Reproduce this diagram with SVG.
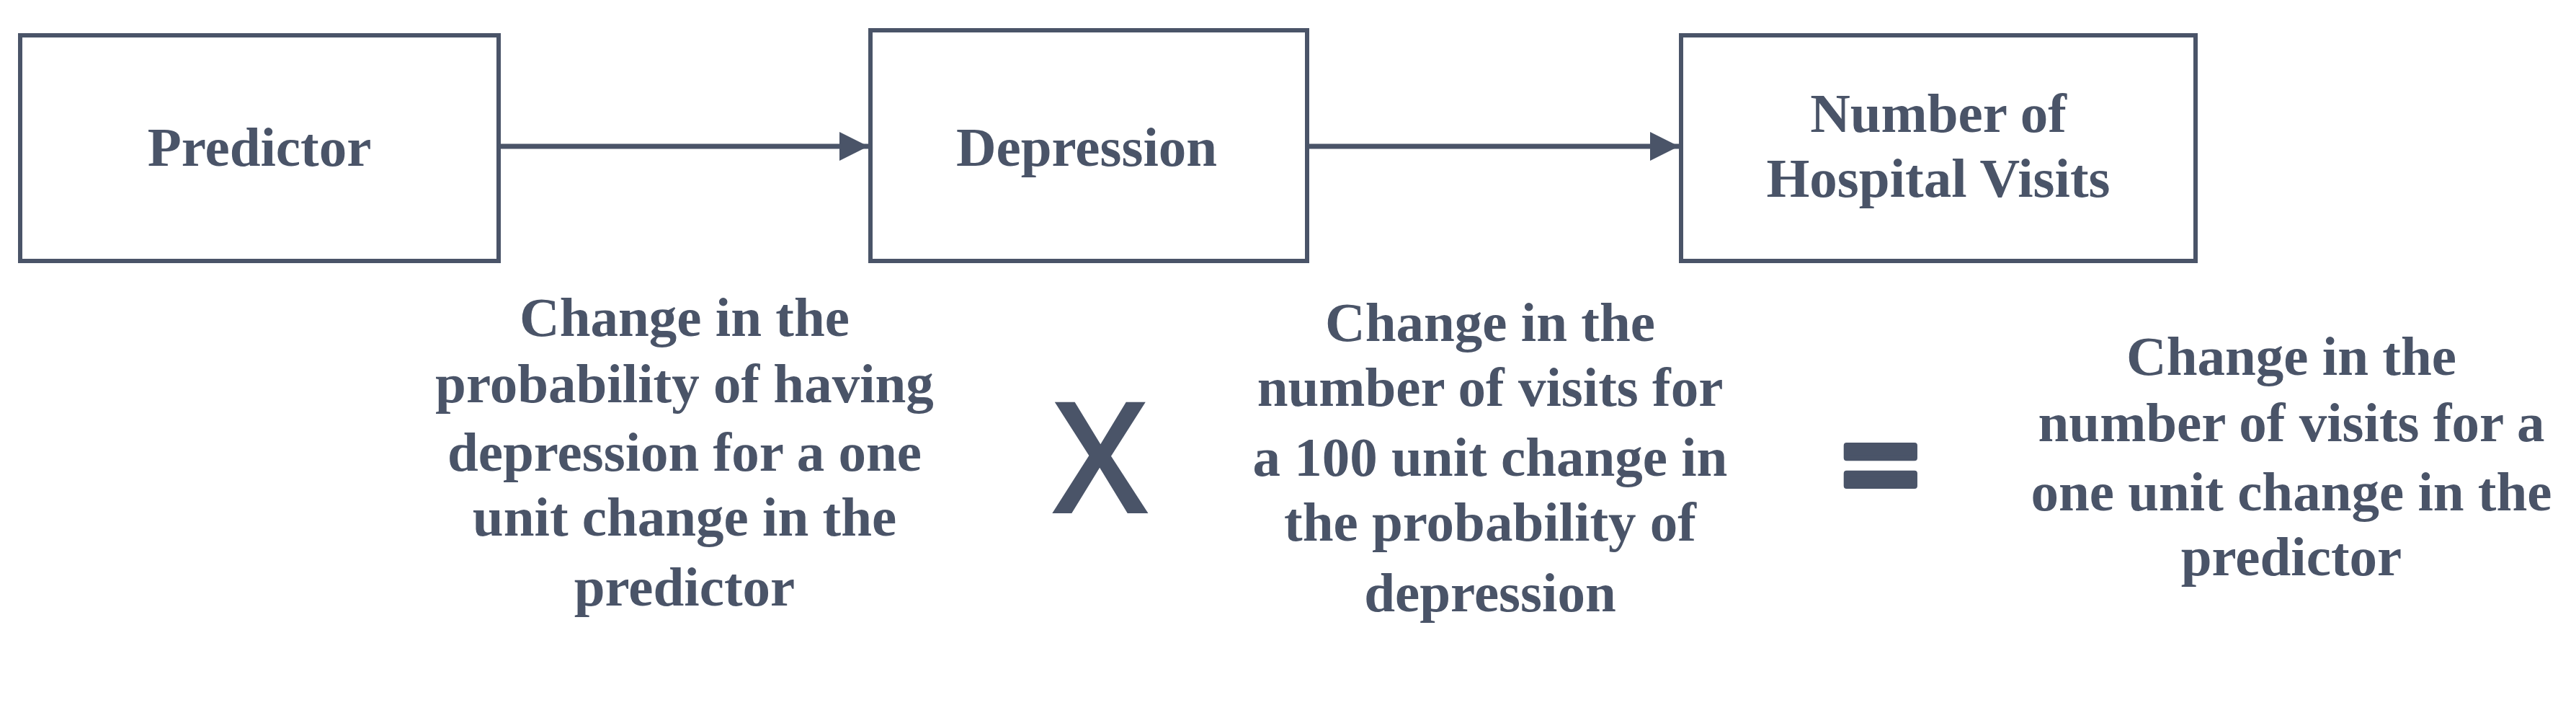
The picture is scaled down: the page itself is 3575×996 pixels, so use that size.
<svg xmlns="http://www.w3.org/2000/svg" width="3575" height="996" viewBox="0 0 3575 996">
<style>
.box{fill:#ffffff;stroke:#4a5468;stroke-width:6}
.lbl{font-family:"Liberation Serif","Times New Roman",serif;font-weight:bold;fill:#4a5468;text-anchor:middle;font-size:77px}
.conn{stroke:#4a5468;stroke-width:7;fill:none}
.op{font-family:"Open Sans","DejaVu Sans",sans-serif;font-weight:600;fill:#4a5468;text-anchor:middle}
</style>
<defs>
<marker id="ah" markerUnits="userSpaceOnUse" markerWidth="40" markerHeight="40" refX="40" refY="20" orient="auto" viewBox="0 0 40 40">
<path d="M0,0 L40,20 L0,40 Z" fill="#4a5468"/>
</marker>
</defs>
<rect width="3575" height="996" fill="#ffffff"/>
<g id="connectors">
<line class="conn" x1="695" y1="203" x2="1205" y2="203" marker-end="url(#ah)"/>
<line class="conn" x1="1817" y1="203" x2="2330" y2="203" marker-end="url(#ah)"/>
</g>
<g id="node-predictor">
<rect class="box" x="28" y="49" width="664" height="313"/>
<text class="lbl" x="360" y="230" font-size="78">Predictor</text>
</g>
<g id="node-depression">
<rect class="box" x="1208" y="42" width="606" height="320"/>
<text class="lbl" x="1508" y="230" font-size="78">Depression</text>
</g>
<g id="node-visits">
<rect class="box" x="2333" y="49" width="714" height="313"/>
<text class="lbl" x="2690" y="183">Number of</text>
<text class="lbl" x="2690" y="273">Hospital Visits</text>
</g>
<g id="text-left">
<text class="lbl" x="950" y="466">Change in the</text>
<text class="lbl" x="950" y="558">probability of having</text>
<text class="lbl" x="950" y="653">depression for a one</text>
<text class="lbl" x="950" y="743">unit change in the</text>
<text class="lbl" x="950" y="840">predictor</text>
</g>
<g id="op-times">
<text class="op" x="1527" y="712" font-size="215">X</text>
</g>
<g id="text-middle">
<text class="lbl" x="2068" y="473">Change in the</text>
<text class="lbl" x="2068" y="563">number of visits for</text>
<text class="lbl" x="2068" y="660">a 100 unit change in</text>
<text class="lbl" x="2068" y="750">the probability of</text>
<text class="lbl" x="2068" y="848">depression</text>
</g>
<g id="op-equals">
<text class="op" x="2610" y="716" font-size="200" font-weight="bold" stroke="#4a5468" stroke-width="8" stroke-linejoin="round">=</text>
</g>
<g id="text-right">
<text class="lbl" x="3180" y="520">Change in the</text>
<text class="lbl" x="3180" y="612">number of visits for a</text>
<text class="lbl" x="3180" y="708">one unit change in the</text>
<text class="lbl" x="3180" y="798">predictor</text>
</g>
</svg>
